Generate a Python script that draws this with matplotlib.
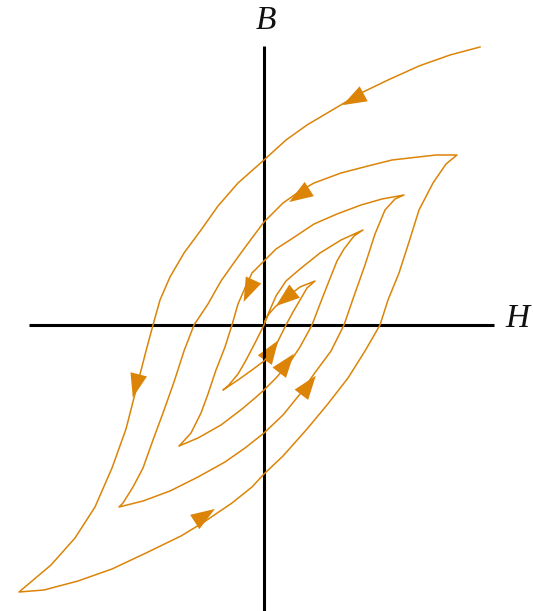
import numpy as np
import matplotlib
matplotlib.use("Agg")
import matplotlib.pyplot as plt
from matplotlib.patches import Polygon

# Hysteresis spiral (demagnetisation), H and B in arbitrary units
H = [21.6, 18.6, 15.5, 12.4, 9.7, 7.0, 4.3, 2.2, 0.0, -2.6, -4.6, -6.3, -8.0, -9.4,
     -10.4, -11.1, -11.8, -12.8, -13.8, -15.2, -16.9, -18.9, -21.3, -24.5,
     -22.0, -18.6, -15.2, -11.8, -8.3, -6.0, -3.2, -1.2, 0.0, 1.9, 4.3, 6.3, 8.4,
     10.1, 11.6, 12.4, 13.5, 14.5, 15.5, 16.9, 18.2, 19.3,
     17.2, 14.5, 12.8, 10.4, 7.7, 5.0, 3.6, 1.9, 0.0, -1.2, -2.6, -4.3, -5.6, -7.0,
     -8.0, -9.0, -10.1, -11.1, -12.1, -13.1, -14.1, -14.5,
     -12.1, -9.4, -6.6, -3.9, -1.9, 0.0, 1.9, 3.6, 5.0, 6.7, 8.0, 9.0, 10.1, 11.1,
     12.1, 13.1, 14.0,
     11.8, 9.7, 7.3, 5.0, 2.9, 1.2, 0.0, -1.2, -1.9, -2.6, -3.2, -3.9, -4.8, -5.6,
     -6.3, -7.3, -8.3, -8.5,
     -6.6, -4.3, -2.2, -0.9, 0.0, 1.2, 2.6, 3.6, 4.8, 5.6, 6.5, 7.3, 8.0, 9.0, 9.9,
     7.7, 5.6, 3.6, 2.2, 1.2, 0.5, 0.0, -0.9, -1.9, -2.6, -3.6, -4.1,
     -2.6, -1.2, 0.0, 0.9, 1.5, 2.2, 2.9, 3.6, 4.3, 5.1,
     3.6, 2.3, 1.1, 0.4, 0.1]
B = [27.8, 27.0, 25.9, 24.5, 23.2, 21.6, 20.0, 18.5, 16.5, 14.2, 11.9, 9.5, 7.2, 4.8,
     2.5, 0.0, -2.6, -6.5, -10.4, -14.3, -18.2, -21.3, -24.0, -26.7,
     -26.5, -25.6, -24.4, -22.8, -21.1, -19.7, -17.8, -16.2, -14.9, -13.1, -10.4, -8.0, -5.3,
     -2.6, 0.0, 2.5, 5.2, 8.3, 11.5, 14.2, 16.1, 17.0,
     17.0, 16.7, 16.5, 15.9, 15.2, 14.2, 13.4, 12.2, 10.3, 8.7, 6.8, 4.4, 2.1, 0.0,
     -2.6, -5.7, -8.8, -11.5, -14.3, -16.2, -17.8, -18.2,
     -17.6, -16.6, -15.2, -13.7, -12.3, -10.8, -9.0, -6.9, -4.9, -2.6, 0.0, 2.9, 6.0, 9.1,
     11.5, 12.6, 13.0,
     12.6, 12.0, 11.1, 10.1, 8.7, 7.6, 6.4, 5.2, 3.7, 2.1, 0.0, -2.2, -4.5, -6.9,
     -8.8, -10.8, -11.9, -12.1,
     -11.3, -10.0, -8.4, -7.3, -6.5, -5.3, -3.7, -2.2, 0.0, 2.1, 4.4, 6.4, 7.6, 8.9, 9.5,
     8.5, 7.2, 5.6, 4.4, 2.9, 1.3, 0.0, -1.8, -3.7, -4.9, -6.1, -6.5,
     -5.5, -4.5, -3.6, -2.6, -1.4, 0.0, 1.3, 2.5, 3.7, 4.4,
     3.8, 2.8, 1.8, 1.0, 0.4]

# positions of the direction arrows along the curve
arrow_h = [9.0, 3.6, -1.5, 2.2, -12.8, 0.7, 2.2, 4.4, -6.0]
arrow_b = [22.6, 13.0, 3.5, 2.7, -6.0, -2.6, -3.9, -6.1, -19.1]

orange = '#DB8407'

fig = plt.figure(figsize=(5.33, 6.11), dpi=100)
ax = fig.add_axes([0, 0, 1, 1])
ax.set_xlim(-26.4, 26.9)
ax.set_ylim(-28.6, 32.5)
ax.axis('off')

# axes
ax.plot([-23.5, 23.0], [0, 0], color='black', lw=2.2, solid_capstyle='butt')
ax.plot([0, 0], [27.9, -28.6], color='black', lw=2.2, solid_capstyle='butt')
ax.text(0.2, 30.4, 'B', fontsize=24, fontstyle='italic', family='Liberation Serif',
        ha='center', va='center', color='#111111')
ax.text(25.3, 0.6, 'H', fontsize=24, fontstyle='italic', family='Liberation Serif',
        ha='center', va='center', color='#111111')

ax.plot(H, B, color=orange, lw=1.1)

# arrowheads: direction taken from the curve at the nearest point
h = np.array(H)
b = np.array(B)
for ah, ab in zip(arrow_h, arrow_b):
    i = np.argmin((h - ah) ** 2 + (b - ab) ** 2)
    i = min(max(i, 1), len(h) - 2)
    d = np.array([h[i + 1] - h[i - 1], b[i + 1] - b[i - 1]])
    d = d / np.hypot(*d)
    n = np.array([-d[1], d[0]])
    c = np.array([ah, ab])
    tip = c + d * 1.3
    base = c - d * 1.1
    tri = [tip, base + n * 0.85, base - n * 0.85]
    ax.add_patch(Polygon(tri, closed=True, color=orange, lw=0))

fig.savefig('out.png', dpi=100)
